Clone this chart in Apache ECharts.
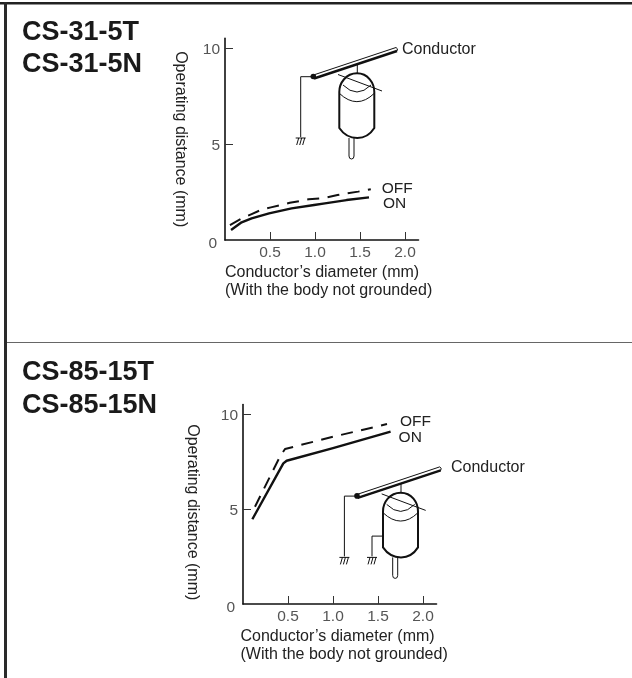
<!DOCTYPE html>
<html><head><meta charset="utf-8">
<style>html,body{margin:0;padding:0;background:#fff}#c{width:632px;height:678px}</style>
<script src="https://cdn.jsdelivr.net/npm/echarts@6/dist/echarts.min.js"></script>
</head><body><div id="c"></div>
<script>
const xTicks = [0.5, 1, 1.5, 2];
const yTicks = [0, 5, 10];
const chartTitles = [["CS-31-5T", "CS-31-5N"], ["CS-85-15T", "CS-85-15N"]];
const xName = "Conductor\u2019s diameter (mm)\n(With the body not grounded)";
const yName = "Operating distance (mm)";

const a_off_x = [0.055, 0.19, 0.296, 0.415, 0.51, 0.62, 0.72, 0.83, 0.93, 1.06, 1.13, 1.25, 1.35, 1.48, 1.62];
const a_off_y = [0.78, 1.13, 1.35, 1.6, 1.7, 1.82, 1.94, 2.03, 2.12, 2.17, 2.22, 2.34, 2.43, 2.52, 2.64];
const a_on_x = [0.067, 0.185, 0.296, 0.49, 0.74, 0.99, 1.11, 1.35, 1.6];
const a_on_y = [0.52, 0.92, 1.13, 1.39, 1.65, 1.82, 1.91, 2.08, 2.22];

const b_off_x = [0.133, 0.41, 0.467, 1.0, 1.6];
const b_off_y = [5.12, 7.75, 8.16, 8.8, 9.47];
const b_on_x = [0.104, 0.448, 0.485, 1.0, 1.64];
const b_on_y = [4.46, 7.4, 7.54, 8.2, 9.07];

const FONT = '"Liberation Sans", Arial, sans-serif';
const zip = (a, b) => a.map((v, i) => [v, b[i]]);
const chart = echarts.init(document.getElementById('c'), null, {renderer: 'canvas'});

function xAxis(idx, gap) {
  return {
    type: 'value', gridIndex: idx, min: 0, max: 2.15, interval: 0.5,
    name: xName, nameLocation: 'start', nameGap: gap, nameMoveOverlap: false,
    nameTextStyle: {fontFamily: FONT, fontSize: 16, color: '#222', align: 'left', verticalAlign: 'top', lineHeight: 17.5, padding: [24, 0, 0, 0]},
    axisLine: {lineStyle: {color: '#111', width: 1.6}},
    axisTick: {show: true, inside: true, length: 8, customValues: xTicks, lineStyle: {color: '#333', width: 1}},
    axisLabel: {customValues: xTicks, margin: 5, fontFamily: FONT, fontSize: 15.5, color: '#555', formatter: v => v.toFixed(1)},
    splitLine: {show: false}
  };
}
function yAxis(idx, gap, shift) {
  return {
    type: 'value', gridIndex: idx, min: 0, max: 10.5, interval: 5,
    name: yName, nameLocation: 'middle', nameRotate: -90, nameGap: gap,
    nameTextStyle: {fontFamily: FONT, fontSize: 16, color: '#222', padding: [0, 0, 0, shift]},
    axisLine: {lineStyle: {color: '#111', width: 1.6}},
    axisTick: {show: true, inside: true, length: 8, customValues: [5, 10], lineStyle: {color: '#333', width: 1}},
    axisLabel: {customValues: yTicks, margin: 5, fontFamily: FONT, fontSize: 15.5, color: '#555',
      formatter: v => v === 0 ? '{z|0}' : '{n|' + v + '}',
      rich: {
        z: {fontFamily: FONT, fontSize: 15.5, color: '#555', padding: [8, 3, 0, 0]},
        n: {fontFamily: FONT, fontSize: 15.5, color: '#555', padding: [4, 0, 0, 0]}
      }},
    splitLine: {show: false}
  };
}
function line(name, idx, data, dashed, offset) {
  return {
    name, type: 'line', xAxisIndex: idx, yAxisIndex: idx, data, smooth: false,
    showSymbol: false, symbol: 'none', silent: true, clip: false,
    lineStyle: {color: '#111', width: dashed ? 2 : 2.4, type: dashed ? [12, 8.5] : 'solid', cap: 'butt', join: 'round'},
    endLabel: {show: true, formatter: name, distance: 0, offset, fontFamily: FONT, fontSize: 15.5, color: '#222'}
  };
}
let shapeId = 0;
function pathShape(d) {
  const name = 'probePath' + (shapeId++);
  echarts.graphic.registerShape(name, echarts.graphic.extendPath(d, {}));
  return name;
}
function probe(dx, dy, second) {
  const s = {stroke: '#111', fill: null, lineWidth: 1};
  const S = (d, style) => ({type: pathShape(d), shape: {}, style: Object.assign({}, s, style), silent: true});
  const ground = (x, y) => `M${x-5} ${y}L${x+5} ${y}M${x-2} ${y}L${x-4} ${y+7}M${x+1} ${y}L${x-1} ${y+7}M${x+4} ${y}L${x+2} ${y+7}`;
  const items = [
    S('M300.7 76.7L313 76.7M300.7 76.7L300.7 137'),
    S(ground(300.7, 138)),
    S('M357.3 62L357.3 80'),
    S('M349 138L349 156Q349 159 351.5 159Q354 159 354 156L354 138', {lineWidth: 1}),
    S('M339.3 92C339.3 83 346 73.3 357 73.3C368 73.3 374.3 83 374.3 92L374.3 128Q368 138 357.3 138Q346 138 339.3 128Z', {fill: '#fff', lineWidth: 2}),
    S('M343 85Q357 99 371 85', {lineWidth: 1}),
    S('M339.3 93.3Q357 110 374.3 93.3', {lineWidth: 1}),
    S('M338 74.5L382 91', {lineWidth: 1}),
    S('M313.5 75L396 47.5Q398.5 48.5 397 51L314 78.5Z', {fill: '#fff', lineWidth: 1}),
    S('M314 78.5L397 51', {lineWidth: 2.4}),
    {type: 'circle', shape: {cx: 313.3, cy: 76.5, r: 2.8}, style: {fill: '#111'}, silent: true}
  ];
  if (second) {
    items.push(S('M339.3 116.7L328.3 116.7L328.3 137'));
    items.push(S(ground(328.3, 138)));
  }
  return {type: 'group', x: dx, y: dy, silent: true, children: items};
}
const txt = (x, y, text, style) => ({type: 'text', x, y, silent: true, style: Object.assign({text, fontFamily: FONT, fill: '#222', fontSize: 16, verticalAlign: 'middle'}, style)});
const hd = {fontSize: 27, fontWeight: 'bold', fill: '#1a1a1a'};

chart.setOption({
  animation: false,
  backgroundColor: '#fff',
  grid: [
    {left: 225, width: 193.5, top: 38.4, height: 201.6},
    {left: 243, width: 193.5, top: 404.5, height: 199.5}
  ],
  xAxis: [xAxis(0, 0), xAxis(1, 2.5)],
  yAxis: [yAxis(0, 37, 0), yAxis(1, 43, 16)],
  series: [
    line('OFF', 0, zip(a_off_x, a_off_y), true, [11, -1]),
    line('ON', 0, zip(a_on_x, a_on_y), false, [14, 6]),
    line('OFF', 1, zip(b_off_x, b_off_y), true, [13, -2]),
    line('ON', 1, zip(b_on_x, b_on_y), false, [8, 6])
  ],
  graphic: [
    {type: 'rect', shape: {x: 0, y: 2, width: 632, height: 2.5}, style: {fill: '#222'}, silent: true},
    {type: 'rect', shape: {x: 4, y: 2, width: 3, height: 676}, style: {fill: '#2a2a2a'}, silent: true},
    {type: 'rect', shape: {x: 7, y: 342, width: 625, height: 1}, style: {fill: '#666'}, silent: true},
    txt(22, 33, chartTitles[0][0], hd),
    txt(22, 65, chartTitles[0][1], hd),
    txt(22, 373, chartTitles[1][0], hd),
    txt(22, 406, chartTitles[1][1], hd),
    probe(0, 0, false),
    probe(43.7, 419.4, true),
    txt(402, 50, 'Conductor'),
    txt(451, 468, 'Conductor')
  ]
});
</script></body></html>
